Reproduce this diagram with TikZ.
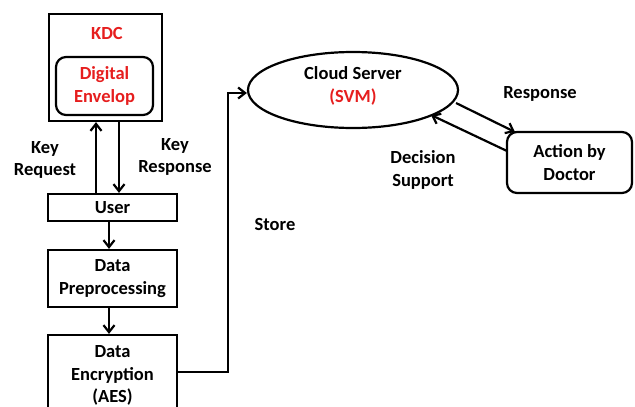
\documentclass[tikz,border=0pt]{standalone}
\usepackage{fontspec}
\setmainfont{Carlito}
\usetikzlibrary{arrows.meta,shapes.geometric}
\definecolor{kred}{RGB}{230,30,30}
\begin{document}
\begin{tikzpicture}[x=1pt,y=-1pt,
  font=\fontsize{18.5}{22.5}\selectfont\bfseries,
  box/.style={draw,line width=2.2pt,inner sep=0pt},
  conn/.style={line width=2.2pt,-{Straight Barb[length=7pt,width=11pt]}},
  lbl/.style={align=center,inner sep=0pt}]
\useasboundingbox (0,0) rectangle (635,407);
\begin{scope}
\clip (0,0) rectangle (635,407);
% KDC with the digital envelope inside
\node[box,minimum width=113pt,minimum height=107pt] (kdc) at (105.5,67.5) {};
\node[lbl,text=kred] (kdct) at (107,33) {KDC};
\node[box,rounded corners=10pt,minimum width=97pt,minimum height=58pt,align=center,text=kred] (env) at (104.5,86) {Digital\\Envelop};
% processing chain
\node[box,minimum width=129pt,minimum height=27pt] (user) at (112.5,207.5) {User};
\node[box,minimum width=129pt,minimum height=57pt,align=center] (prep) at (112.5,278.5) {Data\\Preprocessing};
\node[box,minimum width=129pt,minimum height=78pt] (enc) at (112.5,374) {};
\node[lbl] (enct) at (112.5,375.5) {Data\\Encryption\\(AES)};
% cloud and doctor
\node[box,ellipse,minimum width=210pt,minimum height=76pt] (cloud) at (353,90) {};
\node[lbl] (cloudt) at (353,86) {Cloud Server\\\textcolor{kred}{(SVM)}};
\node[box,rounded corners=10pt,minimum width=125pt,minimum height=61pt,align=center] (doc) at (569.5,162.5) {Action by\\Doctor};
% labels
\node[lbl] (kreq) at (45,160) {Key\\Request};
\node[lbl] (kres) at (175,157) {Key\\Response};
\node[lbl] (store) at (275,224) {Store};
\node[lbl] (resp) at (540,94) {Response};
\node[lbl] (dsup) at (423,170) {Decision\\Support};
% connectors
\draw[conn] (user.north -| 96,0) -- (kdc.south -| 96,0);
\draw[conn] (kdc.south -| 119,0) -- (user.north -| 119,0);
\draw[conn] (user.south -| 109,0) -- (prep.north -| 109,0);
\draw[conn] (prep.south -| 109,0) -- (enc.north -| 109,0);
\coordinate (bend1) at (228,372);
\coordinate (bend2) at (228,93);
\draw[conn] (enc.east |- bend1) -- (bend1) -- (bend2) -- (cloud.west |- bend2);
\coordinate (cloudout) at (456,103);
\coordinate (docin) at (515,132);
\coordinate (docout) at (507,151);
\coordinate (cloudin) at (431,115);
\draw[conn] (cloudout) -- (docin);
\draw[conn] (docout) -- (cloudin);
\end{scope}
\end{tikzpicture}
\end{document}
